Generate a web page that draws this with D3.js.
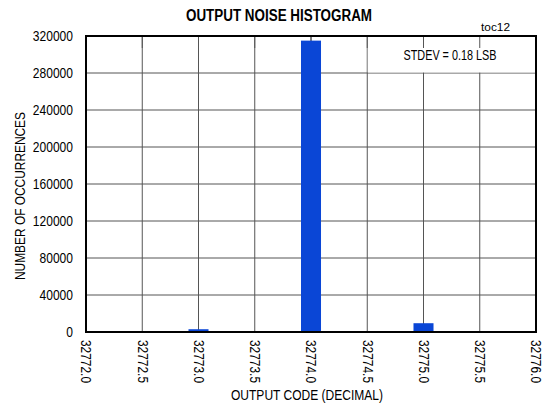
<!DOCTYPE html>
<html>
<head>
<meta charset="utf-8">
<script src="https://cdn.jsdelivr.net/npm/d3@7"></script>
<style>
  body { margin: 0; background: #fff; }
  text { font-family: "Liberation Sans", Arial, sans-serif; fill: #000; }
</style>
</head>
<body>
<div id="chart"></div>
<script>
// donnees
var codes = [32773.0, 32774.0, 32775.0];
var counts = [3000, 315000, 9500];
var xTicks = [32772.0, 32772.5, 32773.0, 32773.5, 32774.0, 32774.5, 32775.0, 32775.5, 32776.0];
var yTicks = [0, 40000, 80000, 120000, 160000, 200000, 240000, 280000, 320000];

var W = 547, H = 404;
var margin = {top: 36, right: 11, bottom: 72, left: 86},
    width = W - margin.left - margin.right,
    height = H - margin.top - margin.bottom;

// police etroite (pas de Arial Narrow) : on tasse le texte a une largeur voulue
function fitTo(sel, w) {
    sel.attr("textLength", w).attr("lengthAdjust", "spacingAndGlyphs");
}
function narrow(sel, k) {
    sel.each(function () {
        var l = this.getComputedTextLength();
        d3.select(this).attr("textLength", l * k).attr("lengthAdjust", "spacingAndGlyphs");
    });
}

var svg = d3.select("#chart").append("svg")
    .attr("width", W)
    .attr("height", H);

var g = svg.append("g")
    .attr("transform", "translate(" + margin.left + "," + margin.top + ")");

var x = d3.scaleLinear().domain([32772, 32776]).range([0, width]);
var y = d3.scaleLinear().domain([0, 320000]).range([height, 0]);

// grille
g.selectAll(".vgrid").data(xTicks).enter().append("line")
    .attr("x1", function (d) { return x(d); })
    .attr("x2", function (d) { return x(d); })
    .attr("y1", 0).attr("y2", height)
    .attr("stroke", "#555").attr("stroke-width", 1);

g.selectAll(".hgrid").data(yTicks).enter().append("line")
    .attr("x1", 0).attr("x2", width)
    .attr("y1", function (d) { return y(d); })
    .attr("y2", function (d) { return y(d); })
    .attr("stroke", "#555").attr("stroke-width", 1);

// boite STDEV (cache la grille)
g.append("rect")
    .attr("x", x(32774.5) + 0.5)
    .attr("y", y(320000))
    .attr("width", x(32776) - x(32774.5) - 0.5)
    .attr("height", y(280000) - y(320000) - 0.5)
    .attr("fill", "#fff");

// petits ticks du haut
g.selectAll(".ttick").data(xTicks).enter().append("line")
    .attr("x1", function (d) { return x(d); })
    .attr("x2", function (d) { return x(d); })
    .attr("y1", 0).attr("y2", 12)
    .attr("stroke", "#555").attr("stroke-width", 1);

g.append("text")
    .attr("x", 450 - margin.left)
    .attr("y", (y(320000) + y(280000)) / 2 + 5)
    .attr("text-anchor", "middle")
    .style("font-size", "14px")
    .text("STDEV = 0.18 LSB")
    .call(fitTo, 93);

// barres
var bw = 0.089;
g.selectAll("rect.bar").data(codes).enter().append("rect")
    .attr("class", "bar")
    .attr("x", function (d) { return x(d - bw); })
    .attr("width", function (d) { return x(d + bw) - x(d - bw); })
    .attr("y", function (d, i) { return y(counts[i]); })
    .attr("height", function (d, i) { return height - y(counts[i]); })
    .attr("fill", "#0a46d6");

// cadre
g.append("rect")
    .attr("x", 0).attr("y", 0)
    .attr("width", width).attr("height", height)
    .attr("fill", "none")
    .attr("stroke", "#000")
    .attr("stroke-width", 2);

// Axe Y
var yAxis = g.append("g")
    .call(d3.axisLeft(y).tickValues(yTicks).tickSize(0).tickPadding(13).tickFormat(d3.format("d")));
yAxis.select(".domain").remove();
yAxis.selectAll("text")
    .style("font-size", "14.5px")
    .style("font-family", "'Liberation Sans', Arial, sans-serif")
    .call(narrow, 0.83);

// Axe X
var xAxis = g.append("g")
    .attr("transform", "translate(0," + height + ")")
    .call(d3.axisBottom(x).tickValues(xTicks).tickSize(0).tickFormat(d3.format(".1f")));
xAxis.select(".domain").remove();
xAxis.selectAll("text")
    .style("font-size", "14.5px")
    .style("font-family", "'Liberation Sans', Arial, sans-serif")
    .style("text-anchor", "start")
    .attr("y", 0)
    .attr("x", 0)
    .attr("dy", "0.35em")
    .attr("transform", "translate(0,8) rotate(90)")
    .call(fitTo, 43);

// titres
svg.append("text")
    .attr("x", 279)
    .attr("y", 21)
    .attr("text-anchor", "middle")
    .style("font-size", "16px")
    .style("font-weight", "bold")
    .text("OUTPUT NOISE HISTOGRAM")
    .call(fitTo, 186);

svg.append("text")
    .attr("x", 510)
    .attr("y", 31)
    .attr("text-anchor", "end")
    .style("font-size", "10.5px")
    .text("toc12")
    .call(fitTo, 29);

svg.append("text")
    .attr("transform", "rotate(-90)")
    .attr("x", -196)
    .attr("y", 25)
    .attr("text-anchor", "middle")
    .style("font-size", "14.5px")
    .text("NUMBER OF OCCURRENCES")
    .call(fitTo, 168);

svg.append("text")
    .attr("x", 307)
    .attr("y", 400)
    .attr("text-anchor", "middle")
    .style("font-size", "14.5px")
    .text("OUTPUT CODE (DECIMAL)")
    .call(fitTo, 152);
</script>
</body>
</html>
